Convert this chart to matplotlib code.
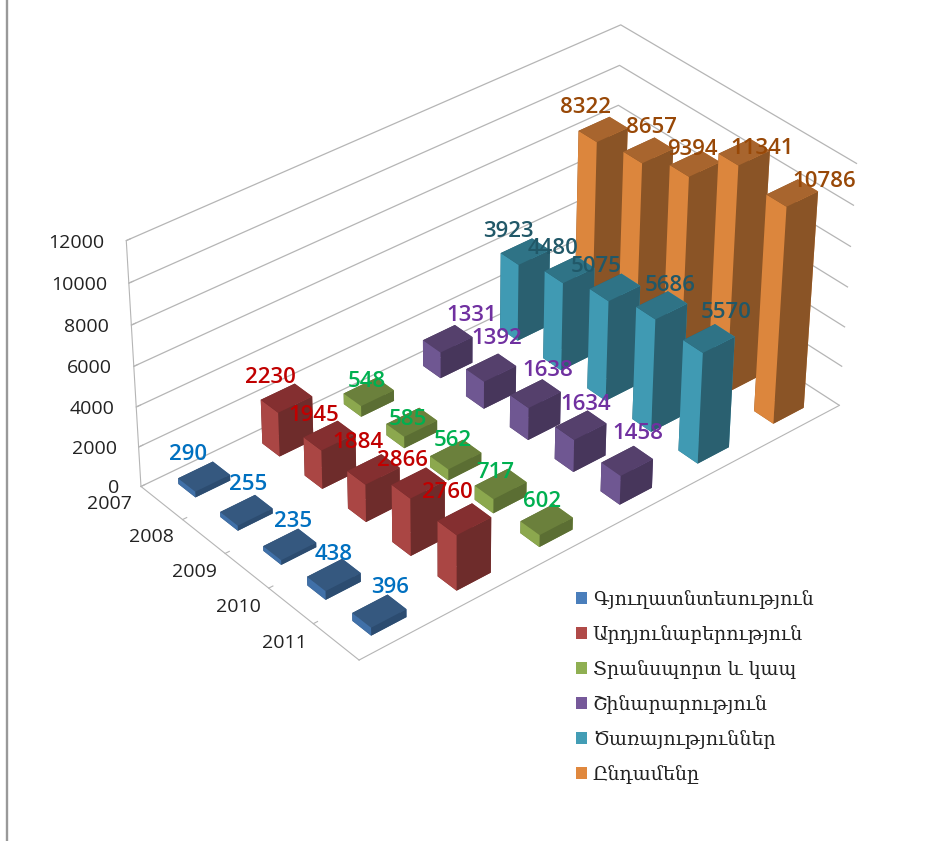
import matplotlib
matplotlib.use("Agg")
import matplotlib.pyplot as plt
from matplotlib.lines import Line2D
from matplotlib.patches import Patch
from matplotlib.transforms import offset_copy
from mpl_toolkits.mplot3d import proj3d

W, H = 939, 841

years = ["2007", "2008", "2009", "2010", "2011"]
series_names = ["Գյուղատնտեսություն", "Արդյունաբերություն", "Տրանսպորտ և կապ",
                "Շինարարություն", "Ծառայություններ", "Ընդամենը"]
z_ticks = [0, 2000, 4000, 6000, 8000, 10000, 12000]

agriculture = [290, 255, 235, 438, 396]
industry = [2230, 1945, 1884, 2866, 2760]
transport = [548, 585, 562, 717, 602]
construction = [1331, 1392, 1638, 1634, 1458]
services = [3923, 4480, 5075, 5686, 5570]
total = [8322, 8657, 9394, 11341, 10786]
series_values = [agriculture, industry, transport, construction, services, total]

# light side, dark side, top, label colour
face_colors = [
    ("#4070A8", "#2C4C70", "#35587F", "#0070C0"),
    ("#AA4644", "#6E2C2B", "#842F30", "#C00000"),
    ("#8CA84E", "#5B6E33", "#6B803C", "#00B050"),
    ("#6F5792", "#47365B", "#55406C", "#7030A0"),
    ("#409AB3", "#2A6070", "#2F7386", "#215868"),
    ("#DC863D", "#8A5426", "#A8652E", "#984807"),
]
legend_colors = ["#4A7EBB", "#B04A48", "#8FAF52", "#76599A", "#439DB5", "#E0883E"]

# where each value label sits relative to the top of its bar, in pixels
label_offsets = [
    [(-16, 22), (2, 26), (3, 23), (0, 20), (11, 24)],
    [(-16, 21), (-16, 20), (-16, 27), (-16, 22), (-17, 27)],
    [(-2, 10), (-4, 3), (-3, 14), (-5, 11), (-5, 18)],
    [(24, 23), (6, 29), (12, 23), (5, 21), (11, 27)],
    [(-17, 20), (-17, 21), (-19, 21), (8, 20), (17, 26)],
    [(-18, 22), (3, 23), (-3, 14), (18, 4), (32, 11)],
]

BAR = 0.41
GRID = "#b5b5b5"
TEXT = "#222222"

plt.rcParams["font.family"] = ["Open Sans", "DejaVu Sans"]
fig = plt.figure(figsize=(W / 100, H / 100), dpi=100)
side = 764
cx, cy = 486.3, 336.5
ax = fig.add_axes([(cx - side / 2) / W, (H - cy - side / 2) / H, side / W, side / H], projection="3d")
ax.set_xlim(0, 6, view_margin=0)
ax.set_ylim(0, 5, view_margin=0)
ax.set_zlim(0, 12000, view_margin=0)
ax.view_init(elev=35.075, azim=-130.572, roll=-0.468)
ax.set_proj_type("persp", focal_length=0.9141)
ax.set_box_aspect((2.1429, 1.1815, 1.0))
ax.computed_zorder = False
ax.patch.set_alpha(0)

ax.set_xticks([])
ax.set_yticks([1, 2, 3, 4])
ax.set_yticklabels([])
ax.set_zticks(z_ticks)
ax.set_zticklabels([])
ax.tick_params(color=GRID)
for axis in (ax.xaxis, ax.yaxis, ax.zaxis):
    axis.set_pane_color((1, 1, 1, 0))
    axis.line.set_color(GRID)
    axis._axinfo["tick"]["inward_factor"] = 0
    axis._axinfo["tick"]["outward_factor"] = 0.1
    axis._axinfo["grid"]["color"] = GRID
    axis._axinfo["grid"]["linewidth"] = 0.9
ax.yaxis._axinfo["grid"]["color"] = (1, 1, 1, 0)
ax.xaxis.pane.set_edgecolor((1, 1, 1, 0))
ax.yaxis.pane.set_edgecolor((1, 1, 1, 0))
ax.zaxis.pane.set_edgecolor(GRID)

# back to front so nearer bars cover the farther ones
order = 0
for s in range(5, -1, -1):
    light, dark, top, _ = face_colors[s]
    for j, v in enumerate(series_values[s]):
        bar = ax.bar3d(s + 0.5 - BAR / 2, 4.5 - j - BAR / 2, 0, BAR, BAR, v, shade=False,
                       color=[top, top, dark, dark, light, light])
        bar.set_zorder(10 + order)
        order += 1

M = ax.get_proj()


def put_text(x, y, z, text, dx, dy, **kwargs):
    px, py, _ = proj3d.proj_transform(x, y, z, M)
    ax.text2D(px, py, text, zorder=1000, va="center",
              transform=offset_copy(ax.transData, fig, x=dx, y=dy, units="dots"), **kwargs)


for s, values in enumerate(series_values):
    for j, v in enumerate(values):
        dx, dy = label_offsets[s][j]
        put_text(s + 0.5, 4.5 - j, v, str(v), dx, dy, color=face_colors[s][3],
                 fontsize=16, fontweight="semibold", ha="center")

for j, year in enumerate(years):
    put_text(0, 4.5 - j, 0, year, -52, -1, color=TEXT, fontsize=14, ha="center")

for z in z_ticks:
    put_text(0, 5, z, str(z), -22, -2, color=TEXT, fontsize=14, ha="right")

handles = [Patch(facecolor=c, edgecolor="none") for c in legend_colors]
fig.legend(handles, series_names, loc="upper left", bbox_to_anchor=(559 / W, 1 - 572.5 / H),
           frameon=False, labelspacing=0.85, handlelength=0.58, handleheight=0.58,
           handletextpad=0.3, prop={"family": ["DejaVu Serif", "DejaVu Sans"], "size": 13.7},
           labelcolor=TEXT)

fig.add_artist(Line2D([6.5 / W, 6.5 / W], [0, 1], transform=fig.transFigure, color="#999999", lw=1.7))

fig.savefig("out.png", dpi=100)
